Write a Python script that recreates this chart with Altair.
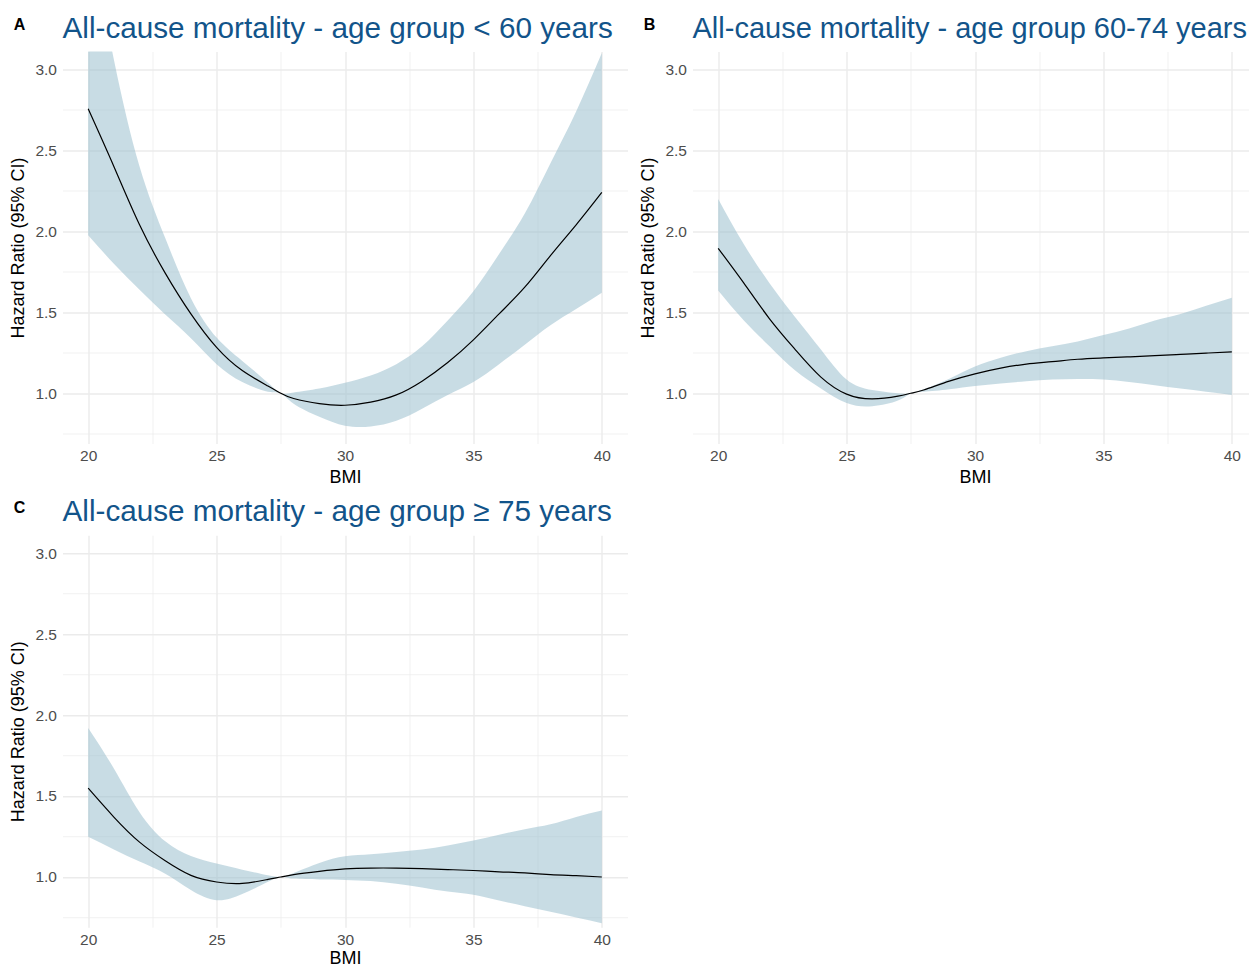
import altair as alt
import pandas as pd

# ---- data ----
BMI = [20, 21, 22, 23, 24, 25, 26, 27, 27.5, 28, 29, 30, 31, 32, 33, 34, 35, 36, 37, 38, 39, 40]

A_HR = [2.756, 2.40, 2.04, 1.742, 1.49, 1.283, 1.14, 1.045, 1.0, 0.968, 0.936, 0.926, 0.945, 0.99, 1.075, 1.19, 1.33, 1.49, 1.655, 1.85, 2.04, 2.24]
A_LO = [1.975, 1.80, 1.639, 1.486, 1.34, 1.18, 1.07, 1.01, 1.0, 0.936, 0.855, 0.80, 0.795, 0.83, 0.905, 0.99, 1.07, 1.18, 1.30, 1.42, 1.52, 1.62]
A_HI = [3.9, 3.06, 2.40, 1.958, 1.587, 1.344, 1.20, 1.065, 1.0, 1.005, 1.03, 1.065, 1.11, 1.18, 1.29, 1.45, 1.63, 1.86, 2.11, 2.42, 2.74, 3.10]

B_HR = [1.895, 1.68, 1.46, 1.27, 1.10, 0.995, 0.965, 0.982, 1.0, 1.02, 1.075, 1.12, 1.155, 1.18, 1.195, 1.21, 1.218, 1.225, 1.232, 1.24, 1.248, 1.256]
B_LO = [1.635, 1.45, 1.29, 1.14, 1.03, 0.94, 0.92, 0.955, 1.0, 1.01, 1.025, 1.045, 1.06, 1.075, 1.085, 1.088, 1.085, 1.07, 1.05, 1.03, 1.01, 0.99]
B_HI = [2.2, 1.92, 1.68, 1.47, 1.27, 1.085, 1.02, 1.0, 1.0, 1.025, 1.09, 1.165, 1.22, 1.26, 1.29, 1.32, 1.36, 1.40, 1.45, 1.49, 1.54, 1.59]

C_HR = [1.548, 1.37, 1.215, 1.10, 1.01, 0.969, 0.96, 0.985, 1.0, 1.015, 1.035, 1.05, 1.055, 1.055, 1.052, 1.046, 1.04, 1.032, 1.025, 1.015, 1.008, 1.0]
C_LO = [1.248, 1.17, 1.095, 1.02, 0.92, 0.857, 0.895, 0.97, 1.0, 0.99, 0.985, 0.982, 0.975, 0.958, 0.935, 0.91, 0.89, 0.855, 0.82, 0.785, 0.75, 0.715]
C_HI = [1.92, 1.67, 1.40, 1.22, 1.13, 1.083, 1.045, 1.01, 1.0, 1.025, 1.087, 1.128, 1.14, 1.155, 1.17, 1.195, 1.225, 1.26, 1.295, 1.325, 1.37, 1.41]

TITLES = [
    "All-cause mortality - age group < 60 years",
    "All-cause mortality - age group 60-74 years",
    "All-cause mortality - age group \u2265 75 years",
]
TITLE_SIZES = [29.7, 29.0, 29.7]
TAGS = ["A", "B", "C"]
X_TICKS = [20, 22.5, 25, 27.5, 30, 32.5, 35, 37.5, 40]
Y_TICKS = [0.75, 1.0, 1.25, 1.5, 1.75, 2.0, 2.25, 2.5, 2.75, 3.0]

FONT = "Liberation Sans"
TITLE_BLUE = "#12548A"
BAND = "#9AC0CD"
INTERP = "natural"

X_SCALE = alt.Scale(domain=[19, 41], nice=False, zero=False)
Y_SCALE = alt.Scale(domain=[0.69, 3.11], nice=False, zero=False)


def x_axis(title_pad):
    return alt.Axis(
        values=X_TICKS,
        labelExpr="datum.value % 5 === 0 ? format(datum.value, 'd') : ''",
        title="BMI",
        gridWidth={"condition": {"test": "datum.value % 5 === 0", "value": 1.4}, "value": 0.7},
        labelPadding=5,
        titlePadding=title_pad,
    )


Y_AXIS = alt.Axis(
    values=Y_TICKS,
    labelExpr="round(datum.value * 100) % 50 === 0 ? format(datum.value, '.1f') : ''",
    title="Hazard Ratio (95% CI)",
    gridWidth={"condition": {"test": "round(datum.value * 100) % 50 === 0", "value": 1.4}, "value": 0.7},
    labelPadding=6,
    titlePadding=7,
)


def panel(hr, lo, hi, title, tag, title_size, x_title_pad=4):
    df = pd.DataFrame({"BMI": BMI, "HR": hr, "lo": lo, "hi": hi})
    base = alt.Chart(df)
    x = alt.X("BMI:Q", scale=X_SCALE, axis=x_axis(x_title_pad))
    band = base.mark_area(color=BAND, opacity=0.55, interpolate=INTERP, clip=True).encode(
        x=x,
        y=alt.Y("hi:Q", scale=Y_SCALE, axis=Y_AXIS),
        y2="lo:Q",
    )
    line = base.mark_line(color="black", strokeWidth=1.2, interpolate=INTERP, clip=True).encode(
        x=x,
        y=alt.Y("HR:Q", scale=Y_SCALE, axis=Y_AXIS),
    )
    labels = pd.DataFrame({"tag": [tag], "title": [title]})
    tag_txt = alt.Chart(labels).mark_text(
        font=FONT, fontSize=16, fontWeight="bold", color="black", align="center", baseline="middle"
    ).encode(x=alt.value(-43), y=alt.value(-27), text="tag:N")
    title_txt = alt.Chart(labels).mark_text(
        font=FONT, fontSize=title_size, color=TITLE_BLUE, align="left", baseline="alphabetic"
    ).encode(x=alt.value(0), y=alt.value(-14), text="title:N")
    return alt.layer(band, line, tag_txt, title_txt).properties(width=565, height=392)


pA = panel(A_HR, A_LO, A_HI, TITLES[0], TAGS[0], TITLE_SIZES[0])
pB = panel(B_HR, B_LO, B_HI, TITLES[1], TAGS[1], TITLE_SIZES[1])
pC = panel(C_HR, C_LO, C_HI, TITLES[2], TAGS[2], TITLE_SIZES[2], x_title_pad=2)

chart = (
    alt.concat(pA, pB, pC, columns=2, spacing={"row": 91.7, "column": 65}, bounds="flush")
    .properties(padding={"left": 1.5, "top": 5.5, "right": -9, "bottom": 0}, background="white")
    .configure_view(stroke=None)
    .configure_axis(
        domain=False,
        ticks=False,
        gridColor="#EBEBEB",
        labelColor="#4D4D4D",
        labelFont=FONT,
        labelFontSize=15.5,
        titleFont=FONT,
        titleFontSize=18,
        titleFontWeight="normal",
        titleColor="black",
    )
)

chart.save("out.html", embed_options={"renderer": "svg", "actions": False})
